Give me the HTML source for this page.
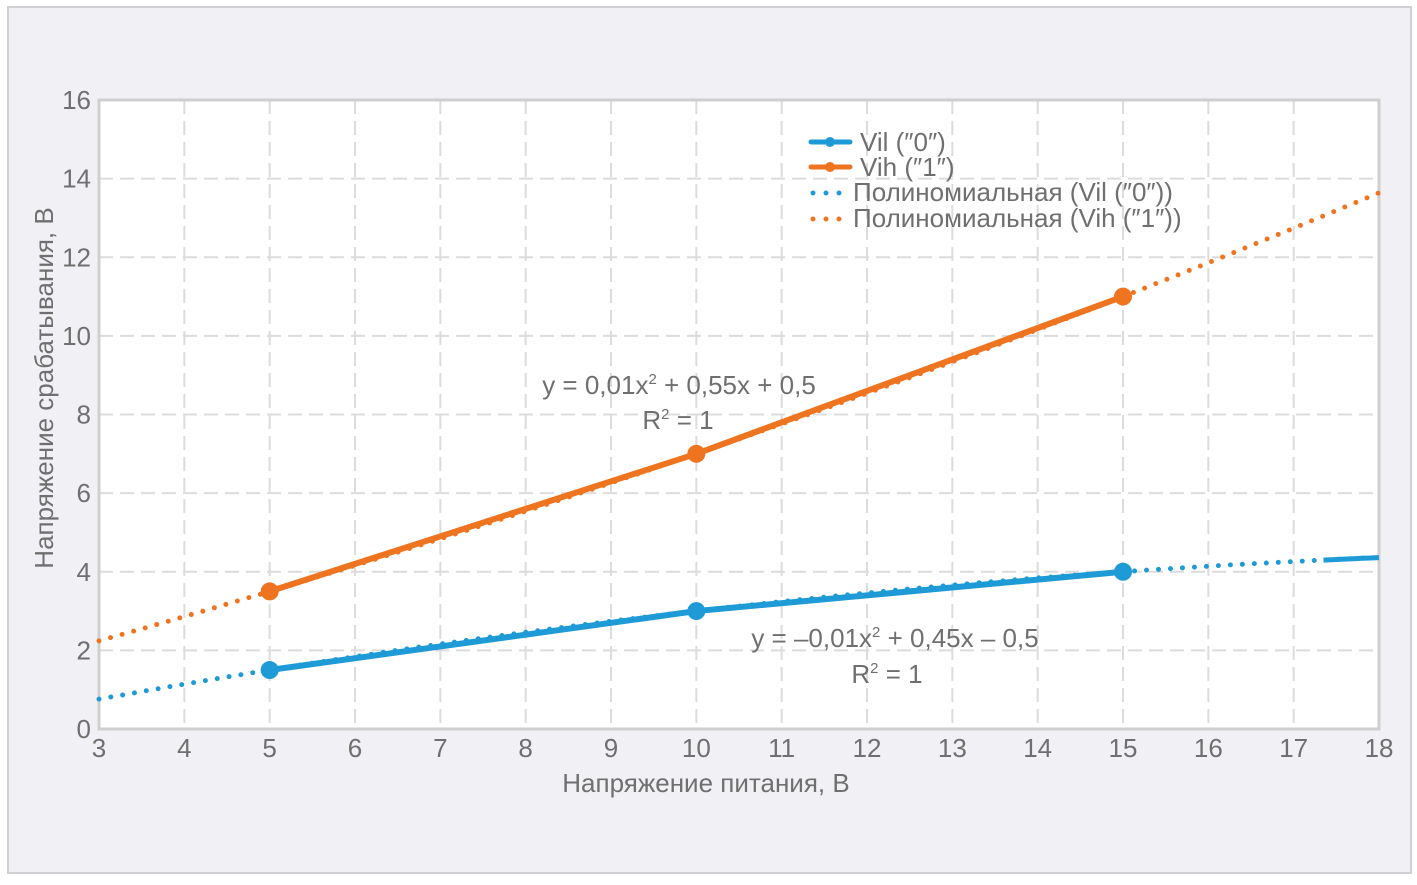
<!DOCTYPE html>
<html><head><meta charset="utf-8"><style>
html,body{margin:0;padding:0;background:#fff}
svg text{font-family:"Liberation Sans Narrow","Liberation Sans",sans-serif;fill:#6f6f6f}
</style></head><body>
<svg width="1417" height="880" xmlns="http://www.w3.org/2000/svg">
<rect x="8" y="7" width="1403" height="866" fill="#f1f1f5" stroke="#d0d0d4" stroke-width="2"/>
<rect x="99" y="100" width="1280" height="629" fill="#fff"/>
<g id="grid"></g>
<rect x="99" y="100" width="1280" height="629" fill="none" stroke="#cfcfcf" stroke-width="3"/>
<g id="axes"></g>
<g id="series"></g>
<text x="75" y="420" font-size="26" text-anchor="middle" transform="rotate(-90 48 415)">Напряжение срабатывания, В</text>
<text x="706" y="792" font-size="26" text-anchor="middle">Напряжение питания, В</text>
<text x="679" y="394" font-size="26" text-anchor="middle">y = 0,01x<tspan font-size="15" dy="-10">2</tspan><tspan dy="10"> + 0,55x + 0,5</tspan></text>
<text x="678" y="429" font-size="26" text-anchor="middle">R<tspan font-size="15" dy="-10">2</tspan><tspan dy="10"> = 1</tspan></text>
<text x="895" y="647" font-size="26" text-anchor="middle">y = –0,01x<tspan font-size="15" dy="-10">2</tspan><tspan dy="10"> + 0,45x – 0,5</tspan></text>
<text x="887" y="683" font-size="26" text-anchor="middle">R<tspan font-size="15" dy="-10">2</tspan><tspan dy="10"> = 1</tspan></text>
<g>
<g><line x1="811" y1="142" x2="850" y2="142" stroke="#1e9ad6" stroke-width="5" stroke-linecap="round"/><circle cx="830" cy="142" r="5" fill="#1e9ad6"/><text x="860" y="151" font-size="26">Vil (″0″)</text></g>
<g><line x1="811" y1="167" x2="850" y2="167" stroke="#ee7420" stroke-width="5" stroke-linecap="round"/><circle cx="830" cy="167" r="5" fill="#ee7420"/><text x="860" y="176" font-size="26">Vih (″1″)</text></g>
<g><line x1="813" y1="193" x2="850" y2="193" stroke="#1e9ad6" stroke-width="5" stroke-dasharray="0 13" stroke-linecap="round"/><text x="853" y="201" font-size="26">Полиномиальная (Vil (″0″))</text></g>
<g><line x1="813" y1="219" x2="850" y2="219" stroke="#ee7420" stroke-width="5" stroke-dasharray="0 13" stroke-linecap="round"/><text x="853" y="227" font-size="26">Полиномиальная (Vih (″1″))</text></g>
</g>
</svg>
<script>
const xTicks=[3,4,5,6,7,8,9,10,11,12,13,14,15,16,17,18];
const yTicks=[0,2,4,6,8,10,12,14,16];
const supply=[5,10,15];
const vil=[1.5,3,4];
const vih=[3.5,7,11];
const vilCoef=[-0.01,0.45,-0.5];
const vihCoef=[0.01,0.55,0.5];
const NS='http://www.w3.org/2000/svg';
const X=v=>99+(v-3)*1280/15, Y=v=>729-v*629/16;
function mk(t,a,p){const e=document.createElementNS(NS,t);for(const k in a)e.setAttribute(k,a[k]);p.appendChild(e);return e;}
const grid=document.getElementById('grid'),axes=document.getElementById('axes'),ser=document.getElementById('series');
xTicks.forEach(t=>{
 if(t>3&&t<18){const l=mk('line',{x1:X(t),x2:X(t),y1:100,y2:729,stroke:'#dcdcdc','stroke-width':2,'stroke-dasharray':'14 7'},grid);
 
 }
 const tx=mk('text',{x:X(t),y:757,'font-size':26,'text-anchor':'middle'},axes);tx.textContent=t;
 
 
});
yTicks.forEach(t=>{
 if(t>0&&t<16){const l=mk('line',{x1:99,x2:1379,y1:Y(t),y2:Y(t),stroke:'#dcdcdc','stroke-width':2,'stroke-dasharray':'14 7'},grid);
 
 }
 const tx=mk('text',{x:91,y:Y(t)+9,'font-size':26,'text-anchor':'end'},axes);tx.textContent=t;
 
 
});
function poly(c,x){return c[0]*x*x+c[1]*x+c[2];}
function trend(c,col,name){let d='';for(let x=3;x<=18.001;x+=0.1)d+=(d?'L':'M')+X(x).toFixed(1)+','+Y(poly(c,x)).toFixed(1);
 const p=mk('path',{d:d,fill:'none',stroke:col,'stroke-width':5,'stroke-dasharray':'0 12','stroke-linecap':'round'},ser);
 
 }
function line(vals,col,name){const d=supply.map((s,i)=>(i?'L':'M')+X(s)+','+Y(vals[i])).join('');
 const p=mk('path',{d:d,fill:'none',stroke:col,'stroke-width':6,'stroke-linejoin':'round'},ser);
 
 
 supply.forEach((s,i)=>{const c=mk('circle',{cx:X(s),cy:Y(vals[i]),r:9,fill:col},ser);
 
 });}
trend(vilCoef,'#1e9ad6','trend-vil');
trend(vihCoef,'#ee7420','trend-vih');
{let d='';for(let x=17.35;x<=18.001;x+=0.05)d+=(d?'L':'M')+X(x).toFixed(1)+','+Y(poly(vilCoef,x)).toFixed(1);
 const p=mk('path',{d:d,fill:'none',stroke:'#1e9ad6','stroke-width':5},ser);
 
 }
line(vil,'#1e9ad6','vil');
line(vih,'#ee7420','vih');
</script>
</body></html>
